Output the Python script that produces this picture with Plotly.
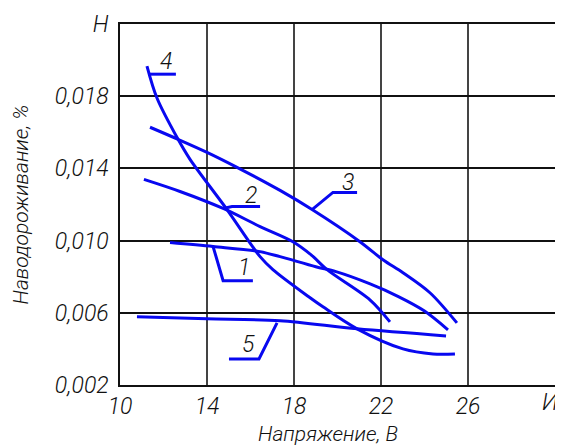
import plotly.graph_objects as go

# ---- data ----
c1_x = [12.3, 14.28, 16.44, 17.36, 19.0, 19.93, 21.5, 22.8, 24.0, 25.08]
c1_y = [0.00989, 0.00967, 0.00939, 0.00911, 0.00855, 0.00828, 0.0076, 0.0069, 0.0061, 0.00506]

c2_x = [11.1, 12.76, 14.74, 16.44, 17.95, 18.8, 19.52, 21.49, 22.41]
c2_y = [0.01339, 0.01272, 0.01178, 0.01078, 0.00994, 0.0092, 0.00839, 0.00672, 0.0055]

c3_x = [11.38, 12.67, 14.0, 15.38, 17.36, 18.83, 21.03, 22.09, 23.01, 24.25, 25.49]
c3_y = [0.01628, 0.01561, 0.01489, 0.01406, 0.01278, 0.01172, 0.00994, 0.00894, 0.00822, 0.00711, 0.00544]

c4_x = [11.24, 11.7, 12.67, 13.22, 14.92, 16.44, 17.03, 18.74, 19.33, 20.9, 23.01, 24.39, 25.4]
c4_y = [0.01967, 0.0179, 0.01561, 0.0145, 0.01172, 0.00911, 0.00839, 0.00683, 0.00633, 0.00511, 0.004, 0.00372, 0.00372]

c5_x = [10.78, 14.0, 17.36, 20.9, 24.99]
c5_y = [0.00578, 0.00567, 0.00556, 0.00511, 0.00472]

curves = [(c1_x, c1_y), (c2_x, c2_y), (c3_x, c3_y), (c4_x, c4_y), (c5_x, c5_y)]

# leader lines and label positions
lead1_x = [14.28, 14.74, 16.11]; lead1_y = [0.00967, 0.00778, 0.00778]
lead2_x = [14.74, 15.15, 16.44]; lead2_y = [0.01178, 0.01189, 0.01189]
lead3_x = [18.83, 19.79, 20.9];  lead3_y = [0.01172, 0.01267, 0.01267]
lead4_x = [11.29, 12.57];        lead4_y = [0.01922, 0.01922]
lead5_x = [17.22, 16.39, 15.01]; lead5_y = [0.00544, 0.00344, 0.00344]
leaders = [(lead1_x, lead1_y), (lead2_x, lead2_y), (lead3_x, lead3_y), (lead4_x, lead4_y), (lead5_x, lead5_y)]

label_text = ["1", "2", "3", "4", "5"]
label_x = [15.7, 16.02, 20.48, 12.11, 15.89]
label_y = [0.0085, 0.0125, 0.01322, 0.01994, 0.00422]

x_ticks = [10, 14, 18, 22, 26, 30]
x_ticktext = ["10", "14", "18", "22", "26", ""]
x_end_label = "И"
x_end_value = 30
y_ticks = [0.002, 0.006, 0.010, 0.014, 0.018, 0.022]
y_ticktext = ["0,002", "0,006", "0,010", "0,014", "0,018", "H"]

x_title = "Напряжение, В"
y_title = "Наводороживание, %"

BLUE = "rgb(8,8,240)"
FONT = dict(family="Roboto, Liberation Sans, sans-serif", size=23, color="#111", style="italic", weight=300)
TFONT = dict(FONT, size=21)

fig = go.Figure()
for cx, cy in curves:
    fig.add_trace(go.Scatter(x=cx, y=cy, mode="lines", line=dict(color=BLUE, width=3, shape="spline", smoothing=0.9),
                             showlegend=False, hoverinfo="skip"))
for lx, ly in leaders:
    fig.add_trace(go.Scatter(x=lx, y=ly, mode="lines", line=dict(color=BLUE, width=3),
                             showlegend=False, hoverinfo="skip"))

for t, x, y in zip(label_text, label_x, label_y):
    fig.add_annotation(x=x, y=y, text=t, showarrow=False, font=FONT)

# end-of-axis symbol for the x axis
fig.add_annotation(x=x_end_value, xref="x", yref="paper", y=0, text=x_end_label, showarrow=False,
                   font=FONT, xanchor="right", yanchor="top", xshift=5, yshift=-2)

# axis titles
fig.add_annotation(xref="paper", yref="paper", x=0.5, y=0, text=x_title, showarrow=False,
                   font=TFONT, xanchor="center", yanchor="bottom", yshift=-63, xshift=-10)
fig.add_annotation(xref="paper", yref="paper", x=0, y=0.5, text=y_title, showarrow=False,
                   font=TFONT, textangle=-90, xanchor="center", yanchor="middle", xshift=-100)

# page body has an 8px margin, so the figure is 8px smaller than the window
fig.update_layout(
    width=555, height=440,
    margin=dict(l=112, r=8, t=16, b=63),
    paper_bgcolor="white", plot_bgcolor="white",
    font=FONT,
    xaxis=dict(range=[10, 30], tickvals=x_ticks, ticktext=x_ticktext,
               showgrid=True, gridcolor="#444", gridwidth=1.5,
               showline=True, linecolor="#111", linewidth=1.5, mirror=True,
               ticks="", zeroline=False, tickfont=FONT, automargin=False),
    yaxis=dict(range=[0.002, 0.022], tickvals=y_ticks, ticktext=y_ticktext,
               showgrid=True, gridcolor="#111", gridwidth=1.5,
               showline=True, linecolor="#111", linewidth=1.5, mirror=True,
               ticks="outside", ticklen=5, tickcolor="rgba(0,0,0,0)",
               zeroline=False, tickfont=FONT, automargin=False),
)

fig.write_html("out.html")
